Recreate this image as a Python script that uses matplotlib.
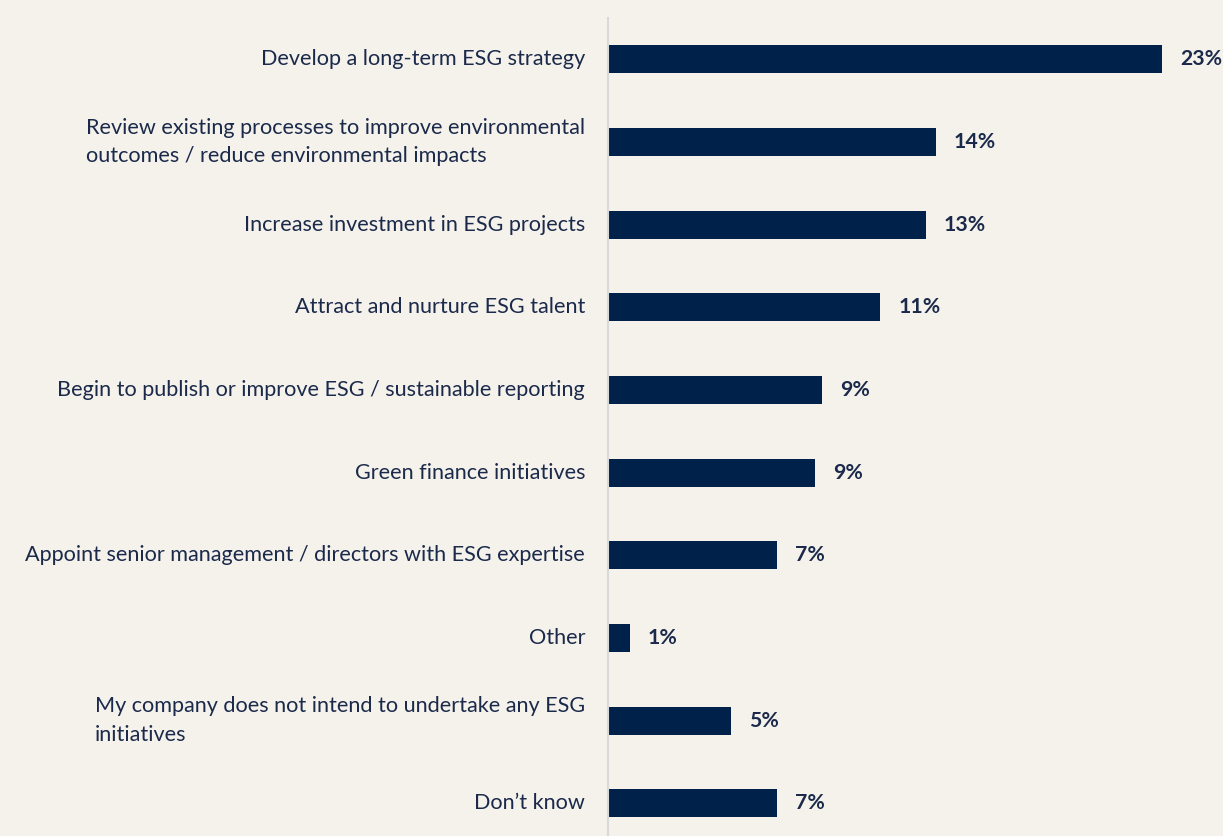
import matplotlib
matplotlib.use("Agg")
import matplotlib.pyplot as plt

categories = [
    "Develop a long-term ESG strategy",
    "Review existing processes to improve environmental\noutcomes / reduce environmental impacts",
    "Increase investment in ESG projects",
    "Attract and nurture ESG talent",
    "Begin to publish or improve ESG / sustainable reporting",
    "Green finance initiatives",
    "Appoint senior management / directors with ESG expertise",
    "Other",
    "My company does not intend to undertake any ESG\ninitiatives",
    "Don\u2019t know",
]
values = [23.0, 13.6, 13.2, 11.3, 8.9, 8.6, 7.0, 0.9, 5.1, 7.0]
value_labels = ["23%", "14%", "13%", "11%", "9%", "9%", "7%", "1%", "5%", "7%"]

bg = "#F5F2EC"
bar_color = "#00224A"
text_color = "#1B2A4A"

plt.rcParams['font.family'] = ['Lato', 'DejaVu Sans']

fig = plt.figure(figsize=(12.23, 8.36), dpi=100, facecolor=bg)
ax = fig.add_axes([608/1223, 0, 1 - 608/1223, 818/836])
ax.set_facecolor(bg)

y = list(range(len(categories)))
ax.barh(y, values, height=0.34, color=bar_color)
ax.set_ylim(9.395, -0.5)
ax.set_xlim(0, 25.53)

for yi, v, lab in zip(y, values, value_labels):
    ax.text(v + 0.75, yi, lab, va='center', ha='left', fontsize=15.3,
            fontweight='bold', color=text_color)

for yi, cat in zip(y, categories):
    ax.text(-0.95, yi, cat, va='center', ha='right', multialignment='left',
            fontsize=15.6, color=text_color, linespacing=1.55)

ax.set_xticks([])
ax.set_yticks([])
for s in ['top', 'right', 'bottom']:
    ax.spines[s].set_visible(False)
ax.spines['left'].set_color('#D9D9D9')
ax.spines['left'].set_linewidth(1.5)

fig.savefig("out.png", dpi=100, facecolor=bg)
